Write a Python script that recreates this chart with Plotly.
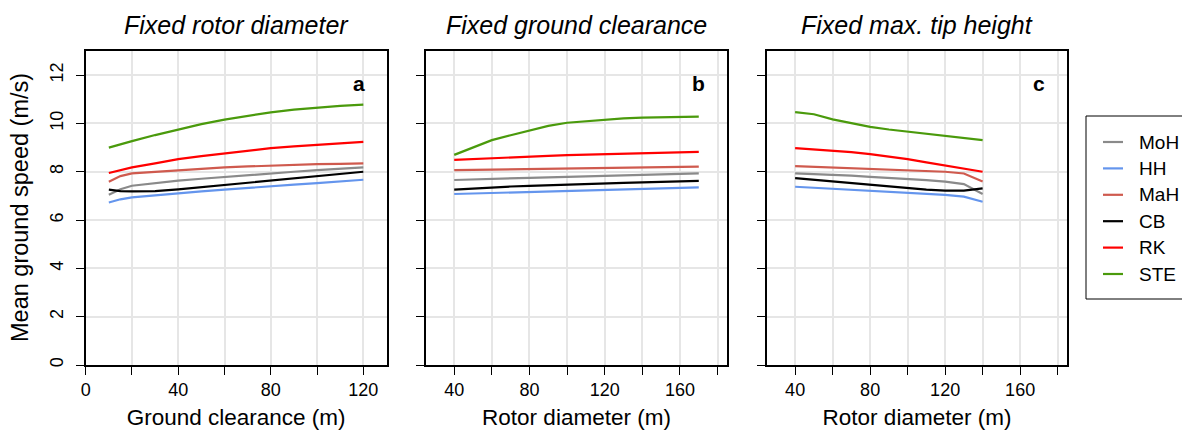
import plotly.graph_objects as go

# ---------------- data ----------------
series = ["MoH", "HH", "MaH", "CB", "RK", "STE"]
colors = {"MoH": "#8a8a8a", "HH": "#6495ED", "MaH": "#CF5A4E", "CB": "#000000",
          "RK": "#FF0000", "STE": "#4A9A0C"}

# Panel a: fixed rotor diameter, x = ground clearance (m)
xa = [10, 15, 20, 30, 40, 50, 60, 70, 80, 90, 100, 110, 120]
a_MoH = [7.05, 7.28, 7.42, 7.53, 7.63, 7.71, 7.79, 7.86, 7.93, 8.00, 8.07, 8.13, 8.18]
a_HH = [6.73, 6.86, 6.94, 7.03, 7.11, 7.19, 7.26, 7.34, 7.41, 7.47, 7.53, 7.60, 7.67]
a_MaH = [7.59, 7.82, 7.93, 8.00, 8.07, 8.13, 8.18, 8.22, 8.26, 8.29, 8.32, 8.33, 8.35]
a_CB = [7.26, 7.20, 7.19, 7.20, 7.27, 7.36, 7.46, 7.56, 7.66, 7.75, 7.84, 7.92, 8.00]
a_RK = [7.95, 8.07, 8.18, 8.35, 8.52, 8.65, 8.77, 8.88, 8.98, 9.05, 9.11, 9.18, 9.24]
a_STE = [9.00, 9.12, 9.27, 9.52, 9.76, 9.97, 10.16, 10.32, 10.46, 10.57, 10.66, 10.73, 10.78]

# Panel b: fixed ground clearance, x = rotor diameter (m)
xb = [40, 50, 60, 70, 80, 90, 100, 110, 120, 130, 140, 150, 160, 170]
b_MoH = [7.66, 7.69, 7.71, 7.73, 7.75, 7.77, 7.79, 7.81, 7.83, 7.85, 7.87, 7.89, 7.91, 7.93]
b_HH = [7.08, 7.10, 7.12, 7.14, 7.16, 7.18, 7.20, 7.22, 7.24, 7.26, 7.28, 7.30, 7.33, 7.35]
b_MaH = [8.07, 8.08, 8.09, 8.10, 8.11, 8.12, 8.13, 8.14, 8.15, 8.16, 8.17, 8.18, 8.20, 8.21]
b_CB = [7.26, 7.31, 7.35, 7.39, 7.42, 7.45, 7.47, 7.50, 7.52, 7.54, 7.56, 7.58, 7.60, 7.62]
b_RK = [8.49, 8.53, 8.57, 8.60, 8.63, 8.66, 8.69, 8.71, 8.73, 8.75, 8.77, 8.79, 8.80, 8.82]
b_STE = [8.70, 9.02, 9.31, 9.51, 9.72, 9.90, 10.03, 10.10, 10.17, 10.21, 10.24, 10.26, 10.27, 10.28]

# Panel c: fixed max. tip height, x = rotor diameter (m)
xc = [40, 50, 60, 70, 80, 90, 100, 110, 120, 130, 140]
c_MoH = [7.93, 7.91, 7.88, 7.84, 7.79, 7.75, 7.70, 7.65, 7.59, 7.49, 7.08]
c_HH = [7.38, 7.34, 7.30, 7.26, 7.22, 7.17, 7.12, 7.08, 7.04, 6.97, 6.76]
c_MaH = [8.23, 8.20, 8.18, 8.16, 8.14, 8.11, 8.08, 8.04, 8.00, 7.93, 7.60]
c_CB = [7.74, 7.67, 7.60, 7.53, 7.46, 7.38, 7.31, 7.26, 7.22, 7.22, 7.31]
c_RK = [8.98, 8.93, 8.87, 8.81, 8.73, 8.63, 8.52, 8.39, 8.25, 8.12, 8.00]
c_STE = [10.47, 10.38, 10.17, 10.01, 9.86, 9.75, 9.66, 9.57, 9.48, 9.39, 9.31]

panel_titles = ["Fixed rotor diameter", "Fixed ground clearance", "Fixed max. tip height"]
panel_letters = ["a", "b", "c"]
x_titles = ["Ground clearance (m)", "Rotor diameter (m)", "Rotor diameter (m)"]
y_title = "Mean ground speed (m/s)"
y_ticks = [0, 2, 4, 6, 8, 10, 12]
xa_ticks = [0, 20, 40, 60, 80, 100, 120]
xa_labels = ["0", "", "40", "", "80", "", "120"]
xbc_ticks = [40, 60, 80, 100, 120, 140, 160, 180]
xbc_labels = ["40", "", "80", "", "120", "", "160", ""]

panels = [
    (xa, {"MoH": a_MoH, "HH": a_HH, "MaH": a_MaH, "CB": a_CB, "RK": a_RK, "STE": a_STE}),
    (xb, {"MoH": b_MoH, "HH": b_HH, "MaH": b_MaH, "CB": b_CB, "RK": b_RK, "STE": b_STE}),
    (xc, {"MoH": c_MoH, "HH": c_HH, "MaH": c_MaH, "CB": c_CB, "RK": c_RK, "STE": c_STE}),
]

# ---------------- figure ----------------
W, H = 1182, 435
FONT = "Liberation Sans, Arial, sans-serif"
fig = go.Figure()

for i, (xv, data) in enumerate(panels):
    sfx = "" if i == 0 else str(i + 1)
    for s in series:
        fig.add_trace(go.Scatter(
            x=xv, y=data[s], mode="lines", name=s,
            line=dict(color=colors[s], width=2.2),
            xaxis="x" + sfx, yaxis="y" + sfx,
            showlegend=False,
        ))

px_domains = [(85.7, 386.7), (426, 727), (767, 1067)]
ydom = [(H - 365) / H, (H - 51) / H]
x_ranges = [[0, 130.1], [25, 185], [25, 185]]

annotations = []
shapes = []
layout = dict(
    width=W, height=H,
    margin=dict(l=0, r=0, t=0, b=0),
    paper_bgcolor="white", plot_bgcolor="white",
    font=dict(family=FONT, color="black"),
    showlegend=False,
)

for i in range(3):
    sfx = "" if i == 0 else str(i + 1)
    d0, d1 = px_domains[i]
    ticks_x = xa_ticks if i == 0 else xbc_ticks
    labels_x = xa_labels if i == 0 else xbc_labels
    layout["xaxis" + sfx] = dict(
        domain=[d0 / W, d1 / W], range=x_ranges[i], anchor="y" + sfx,
        tickmode="array", tickvals=ticks_x, ticktext=labels_x,
        ticks="outside", ticklen=8, tickwidth=1.3, tickcolor="black",
        showline=True, linecolor="black", linewidth=1.5, mirror=True,
        showgrid=True, gridcolor="#e6e6e6", gridwidth=1.5,
        zeroline=False, tickfont=dict(size=18, family=FONT),
        title=dict(text=x_titles[i], font=dict(size=22.5, family=FONT), standoff=10),
        automargin=False,
    )
    ydict = dict(
        domain=ydom, range=[0, 13], anchor="x" + sfx,
        tickmode="array", tickvals=y_ticks,
        ticks="outside", ticklen=8, tickwidth=1.3, tickcolor="black",
        showline=True, linecolor="black", linewidth=1.5, mirror=True,
        showgrid=True, gridcolor="#e6e6e6", gridwidth=1.5,
        zeroline=False, automargin=False,
        showticklabels=(i == 0),
    )
    if i == 0:
        ydict.update(tickangle=-90, tickfont=dict(size=18, family=FONT),
                     ticklabelstandoff=6)
    layout["yaxis" + sfx] = ydict

    # panel title
    annotations.append(dict(
        text="<i>" + panel_titles[i] + "</i>", xref="x" + sfx + " domain", yref="paper",
        x=0.5, y=(H - 25) / H, xanchor="center", yanchor="middle", showarrow=False,
        font=dict(size=25, family=FONT),
    ))
    # panel letter
    annotations.append(dict(
        text="<b>" + panel_letters[i] + "</b>", xref="x" + sfx + " domain", yref="y" + sfx + " domain",
        x=1, y=1, xshift=-20, yshift=-32, xanchor="right", yanchor="middle", showarrow=False,
        font=dict(size=21, family=FONT),
    ))

# y-axis title
annotations.append(dict(
    text=y_title, xref="paper", yref="y domain", x=20 / W, y=0.5,
    xanchor="center", yanchor="middle", textangle=-90, showarrow=False,
    font=dict(size=23.5, family=FONT),
))

# ---------------- legend (drawn as a boxed key on the paper) ----------------
leg_left, leg_top, leg_bottom, leg_right = 1086, 116, 299, 1195
item_y0, item_dy = 142, 26.4
shapes.append(dict(type="rect", xref="paper", yref="paper",
                   x0=leg_left / W, x1=leg_right / W,
                   y0=(H - leg_bottom) / H, y1=(H - leg_top) / H,
                   line=dict(color="black", width=1), fillcolor="white", layer="above"))
for k, s in enumerate(series):
    yy = item_y0 + k * item_dy
    shapes.append(dict(type="line", xref="paper", yref="paper",
                       x0=1103 / W, x1=1123 / W, y0=(H - yy) / H, y1=(H - yy) / H,
                       line=dict(color=colors[s], width=2.2), layer="above"))
    annotations.append(dict(text=s, xref="paper", yref="paper",
                            x=1137 / W, y=(H - yy) / H, xanchor="left", yanchor="middle",
                            showarrow=False, font=dict(size=19, family=FONT)))

layout["annotations"] = annotations
layout["shapes"] = shapes
fig.update_layout(**layout)
fig.write_html("out.html", config={"displayModeBar": False},
               post_script="document.body.style.margin='0';document.body.style.padding='0';")
